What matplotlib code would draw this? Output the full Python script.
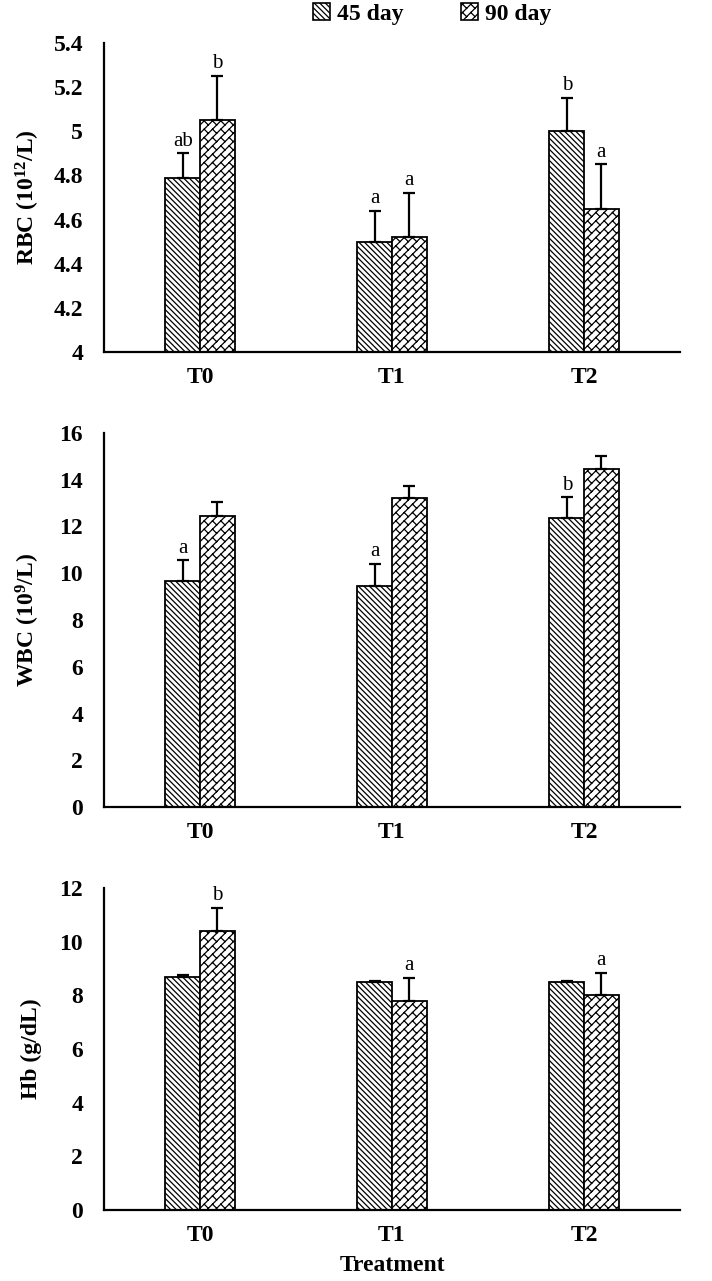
import numpy as np
import matplotlib
matplotlib.use("Agg")
import matplotlib.pyplot as plt
from matplotlib import hatch as mhatch
from matplotlib.path import Path
from matplotlib.patches import Patch

# ---------- data ----------
treatments = ["T0", "T1", "T2"]
series = ["45 day", "90 day"]

rbc_45 = [4.79, 4.50, 5.00]
rbc_45_se = [0.11, 0.14, 0.15]
rbc_90 = [5.05, 4.52, 4.65]
rbc_90_se = [0.20, 0.20, 0.20]
rbc_45_lab = ["ab", "a", "b"]
rbc_90_lab = ["b", "a", "a"]

wbc_45 = [9.65, 9.45, 12.35]
wbc_45_se = [0.90, 0.95, 0.90]
wbc_90 = [12.45, 13.2, 14.45]
wbc_90_se = [0.60, 0.55, 0.55]
wbc_45_lab = ["a", "a", "b"]
wbc_90_lab = ["", "", ""]

hb_45 = [8.68, 8.50, 8.50]
hb_45_se = [0.08, 0.04, 0.04]
hb_90 = [10.4, 7.8, 8.0]
hb_90_se = [0.85, 0.85, 0.85]
hb_45_lab = ["", "", ""]
hb_90_lab = ["b", "a", "a"]

# ---------- style ----------
plt.rcParams["font.family"] = ["Liberation Serif", "DejaVu Serif"]
plt.rcParams["mathtext.fontset"] = "custom"
plt.rcParams["mathtext.bf"] = "Liberation Serif:bold"
plt.rcParams["mathtext.rm"] = "Liberation Serif:bold"
plt.rcParams["mathtext.default"] = "bf"
plt.rcParams["hatch.linewidth"] = 0.9
FS = 17


# brick-like diagonal hatch (replaces the '*' star hatch)
class BrickHatch(mhatch.HatchPatternBase):
    def __init__(self, hatch, density):
        segs = []
        if hatch.count("*") > 0:
            n, L = 12, 1 / 6
            for k in range(-2 * n, 2 * n + 1):
                v = k / n
                segs.append([(-1, -1 + v), (2, 2 + v)])
                off = (k % 2) * L / 2
                for j in range(-10, 22):
                    u = j * L + off
                    v2 = v + 1 / n
                    segs.append([((u - v) / 2, (u + v) / 2),
                                 ((u - v2) / 2, (u + v2) / 2)])
        self.segs = np.array(segs, dtype=float).reshape(-1, 2, 2)
        self.num_vertices = len(segs) * 2

    def set_vertices_and_codes(self, vertices, codes):
        vertices[0::2] = self.segs[:, 0]
        vertices[1::2] = self.segs[:, 1]
        codes[0::2] = Path.MOVETO
        codes[1::2] = Path.LINETO


mhatch._hatch_types = [t for t in mhatch._hatch_types if t is not mhatch.Stars] + [BrickHatch]

HATCH_45 = "\\" * 6
HATCH_90 = "*"

fig = plt.figure(figsize=(7.12, 12.81), dpi=100)
W, H = 712, 1281


def add_axes(top_px, bot_px):
    return fig.add_axes([104 / W, 1 - bot_px / H, 576 / W, (bot_px - top_px) / H])


def panel(ax, v45, e45, l45, v90, e90, l90, ylim, ystep, ylabel):
    x = np.arange(len(treatments))
    w = 0.18
    for vals, errs, labs, off, hatch in ((v45, e45, l45, -w / 2, HATCH_45),
                                         (v90, e90, l90, w / 2, HATCH_90)):
        ax.bar(x + off, vals, width=w, bottom=0, color="white", edgecolor="black",
               linewidth=1.3, hatch=hatch, zorder=2)
        ax.errorbar(x + off, vals, yerr=[np.zeros(len(vals)), errs], fmt="none",
                    ecolor="black", elinewidth=1.6, capsize=4.5, capthick=1.6, zorder=3)
        for xi, v, e, lab in zip(x + off, vals, errs, labs):
            if lab:
                ax.annotate(lab, (xi, v + e), xytext=(0, 2), textcoords="offset points",
                            ha="center", va="bottom", fontsize=15)
    ax.set_xlim(-0.5, len(treatments) - 0.5)
    ax.set_ylim(*ylim)
    ticks = np.arange(ylim[0], ylim[1] + ystep / 2, ystep)
    ax.set_yticks(ticks)
    ax.set_yticklabels([f"{t:g}" for t in np.round(ticks, 2)], fontsize=FS, fontweight="bold")
    ax.set_xticks(x)
    ax.set_xticklabels(treatments, fontsize=FS, fontweight="bold")
    ax.tick_params(axis="y", length=0, pad=15)
    ax.tick_params(axis="x", length=0, pad=11)
    for s in ("top", "right"):
        ax.spines[s].set_visible(False)
    for s in ("left", "bottom"):
        ax.spines[s].set_linewidth(1.6)
    ax.set_ylabel(ylabel, fontsize=FS, fontweight="bold")
    ax.yaxis.set_label_coords(-0.108, 0.5)


ax1 = add_axes(43, 352)
panel(ax1, rbc_45, rbc_45_se, rbc_45_lab, rbc_90, rbc_90_se, rbc_90_lab,
      (4, 5.4), 0.2, r"RBC (10$^{12}$/L)")
ax2 = add_axes(433, 807)
panel(ax2, wbc_45, wbc_45_se, wbc_45_lab, wbc_90, wbc_90_se, wbc_90_lab,
      (0, 16), 2, r"WBC (10$^{9}$/L)")
ax3 = add_axes(888, 1210)
panel(ax3, hb_45, hb_45_se, hb_45_lab, hb_90, hb_90_se, hb_90_lab,
      (0, 12), 2, "Hb (g/dL)")
ax3.set_xlabel("Treatment", fontsize=FS, fontweight="bold", labelpad=6)

handles = [Patch(facecolor="white", edgecolor="black", hatch=HATCH_45, linewidth=1.2),
           Patch(facecolor="white", edgecolor="black", hatch=HATCH_90, linewidth=1.2)]
fig.legend(handles, series, loc="upper center", bbox_to_anchor=(0.607, 1.009), ncol=2,
           frameon=False, prop={"weight": "bold", "size": FS}, handlelength=0.75,
           handleheight=0.75, handletextpad=0.3, columnspacing=2.4, borderpad=0.1)

fig.savefig("out.png", dpi=100)
